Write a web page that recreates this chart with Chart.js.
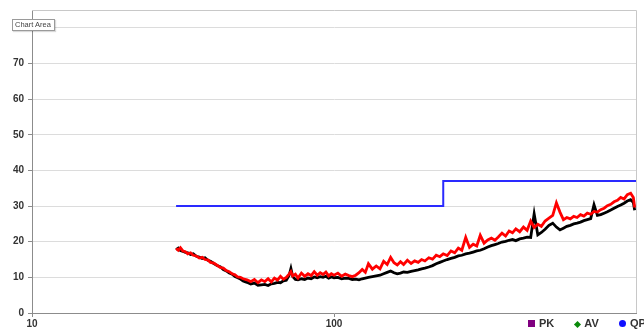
<!DOCTYPE html>
<html>
<head>
<meta charset="utf-8">
<script src="https://cdn.jsdelivr.net/npm/chart.js@4.4.1/dist/chart.umd.min.js"></script>
<style>
    html, body { margin: 0; padding: 0; background: #fff; overflow: hidden; }
    #wrap { position: relative; width: 644px; height: 330px; overflow: hidden; }
    #emiChart { position: absolute; left: 0; top: 0; }
    .chart-area-tip {
        position: absolute; left: 12px; top: 19px; height: 9px; line-height: 9px;
        font: 7.5px "Liberation Sans", Arial, sans-serif; color: #444;
        background: #fff; border: 1px solid #9a9a9a; padding: 0 3px 1px 2px;
        box-shadow: 1px 1px 1px rgba(0,0,0,0.15);
    }
    .legend {
        position: absolute; left: 528px; top: 317px; white-space: nowrap;
        font: bold 11px "Liberation Sans", Arial, sans-serif; color: #333;
    }
    .legend span.item { display: inline-block; margin-right: 17px; }
    .mk { display: inline-block; vertical-align: 0px; margin-right: 4px; }
    .mk.sq { width: 7px; height: 7px; background: #800080; }
    .mk.dm { width: 5px; height: 5px; background: #0a8a0a; transform: rotate(45deg); margin-left: 1px; }
    .mk.ci { width: 7px; height: 7px; background: #1010ff; border-radius: 50%; }
</style>
</head>
<body>
<div id="wrap">
    <canvas id="emiChart" width="644" height="330"></canvas>
    <div class="chart-area-tip">Chart Area</div>
    <div class="legend">
        <span class="item"><span class="mk sq"></span>PK</span>
        <span class="item"><span class="mk dm"></span>AV</span>
        <span class="item"><span class="mk ci"></span>QP</span>
    </div>
</div>
<script>
// --- Data (MHz / dBuV) ---
const freqs = [
    30, 30.5, 31, 31.6, 32.2, 32.8, 33.5, 34.2, 35, 35.8,
    36.6, 37.4, 38.2, 39, 40, 41, 42, 43, 44, 45,
    46, 47, 48, 49, 50, 51.5, 53, 54.5, 56, 57.5,
    59, 60.5, 62, 63.5, 65, 66.5, 68, 69.5, 71, 72,
    73, 74.5, 76, 78, 80, 82, 84, 86, 88, 90,
    92, 94, 96, 98, 100, 103, 106, 109, 112, 115,
    118, 121, 124, 127, 130, 134, 138, 142, 146, 150,
    154, 158, 162, 166, 170, 175, 180, 185, 190, 195,
    200, 206, 212, 218, 224, 230, 237, 244, 251, 258,
    265, 273, 281, 289, 297, 305, 314, 323, 332, 341,
    350, 360, 370, 380, 390, 400, 412, 424, 436, 448,
    460, 473, 486, 500, 515, 530, 545, 560, 575, 590,
    606, 622, 638, 655, 672, 690, 708, 726, 745, 764,
    784, 804, 825, 846, 868, 890, 913, 936, 960, 980,
    990
];
const blackTrace = [
    17.8, 18.2, 17.5, 17.3, 17.0, 16.9, 16.4, 16.6, 15.9, 15.7,
    15.3, 15.5, 14.8, 14.5, 13.9, 13.3, 13.0, 12.2, 11.8, 11.2,
    10.9, 10.2, 9.9, 9.5, 9.0, 8.6, 8.1, 8.4, 7.8, 7.9,
    8.0, 7.7, 8.2, 8.3, 8.6, 8.5, 9.0, 9.2, 10.5, 12.5,
    10.2, 9.4, 9.3, 9.6, 9.4, 9.8, 9.6, 10.1, 9.9, 10.2,
    10.0, 10.3, 9.8, 10.1, 9.9, 10.0, 9.6, 9.8, 9.7, 9.4,
    9.5, 9.3, 9.6, 9.8, 10.0, 10.2, 10.4, 10.6, 11.0, 11.4,
    11.8, 11.3, 11.0, 11.2, 11.5, 11.4, 11.7, 11.9, 12.1, 12.4,
    12.6, 12.9, 13.3, 13.8, 14.2, 14.6, 15.0, 15.3, 15.6, 16.0,
    16.2, 16.6, 16.8, 17.1, 17.4, 17.6, 18.0, 18.5, 18.9, 19.2,
    19.5, 19.9, 20.1, 20.4, 20.6, 20.3, 20.8, 21.0, 21.3, 21.2,
    27.8, 21.9, 22.6, 23.5, 24.6, 25.2, 24.1, 23.3, 23.8, 24.3,
    24.6, 25.0, 25.2, 25.5, 25.9, 26.2, 26.5, 30.4, 27.4, 27.6,
    28.0, 28.4, 28.9, 29.4, 29.9, 30.3, 30.8, 31.4, 31.8, 31.0,
    28.8
];
const redTrace = [
    18.1, 17.6, 18.3, 17.4, 17.2, 16.6, 16.9, 16.2, 16.0, 15.4,
    15.6, 15.0, 14.9, 14.2, 14.0, 13.4, 12.8, 12.6, 11.9, 11.6,
    11.0, 10.7, 10.1, 10.0, 9.6, 9.3, 8.8, 9.4, 8.5, 9.3,
    8.8, 9.6, 8.7, 9.8, 9.2, 10.3, 9.5, 10.0, 10.9, 11.6,
    10.4, 10.9, 9.8, 11.2, 10.3, 11.0, 10.5, 11.6, 10.6, 11.3,
    10.8, 11.5, 10.4, 11.0, 10.6, 11.2, 10.3, 10.9, 10.5, 10.2,
    10.6, 11.3, 12.2, 11.4, 13.8, 12.3, 13.2, 12.4, 14.5, 13.6,
    15.6, 14.1, 13.5, 14.4, 13.6, 14.8, 13.9, 14.6, 14.2, 15.0,
    14.6, 15.5, 15.1, 16.2, 15.8, 16.6, 16.1, 17.4, 16.9, 18.2,
    17.6, 21.2, 18.4, 19.3, 18.8, 21.8, 19.6, 20.5, 21.0, 20.4,
    21.3, 22.4, 21.6, 23.0, 22.5, 23.6, 22.8, 24.1, 23.2, 25.8,
    24.0, 24.9, 24.3, 25.8, 26.6, 27.4, 30.9, 28.3, 26.2, 26.8,
    26.4, 27.1, 26.8, 27.6, 27.2, 28.0, 27.7, 28.5, 28.3, 29.0,
    29.4, 30.1, 30.5, 31.2, 31.6, 32.4, 32.0, 33.2, 33.6, 32.4,
    29.6
];
const limitFreqs = [30, 230, 230, 1000];
const limitValues = [30, 30, 37, 37];
const xTickValues = [10, 100];
const yTickValues = [0, 10, 20, 30, 40, 50, 60, 70, 80];

const toPoints = (xs, ys) => xs.map((x, i) => ({ x, y: ys[i] }));

// --- Chart area frame (top/right border) ---
const framePlugin = {
    id: "frame",
    beforeDatasetsDraw(chart) {
        const { ctx, chartArea: a } = chart;
        ctx.save();
        ctx.strokeStyle = "#c8c8c8";
        ctx.lineWidth = 1;
        ctx.beginPath();
        ctx.moveTo(a.left, a.top + 0.5);
        ctx.lineTo(a.right + 0.5, a.top + 0.5);
        ctx.lineTo(a.right + 0.5, a.bottom);
        ctx.stroke();
        ctx.restore();
    },
};

const tickFont = { family: "'Liberation Sans', Arial, sans-serif", size: 10, weight: "bold" };

new Chart(document.getElementById("emiChart"), {
    type: "line",
    data: {
        datasets: [
            { label: "red", data: toPoints(freqs, redTrace), borderColor: "#ff0000", borderWidth: 2.8, pointRadius: 0, tension: 0 },
            { label: "black", data: toPoints(freqs, blackTrace), borderColor: "#000000", borderWidth: 2.8, pointRadius: 0, tension: 0 },
            { label: "limit", data: toPoints(limitFreqs, limitValues), borderColor: "#2a2aff", borderWidth: 2, pointRadius: 0, tension: 0 },
        ],
    },
    options: {
        responsive: false,
        animation: false,
        layout: { padding: { top: 8, right: 8, left: 0, bottom: 0 } },
        plugins: { legend: { display: false }, tooltip: { enabled: false } },
        scales: {
            x: {
                type: "logarithmic",
                min: 10,
                max: 1000,
                afterBuildTicks: (scale) => { scale.ticks = xTickValues.map((v) => ({ value: v })); },
                afterFit: (scale) => { scale.height = 17; },
                ticks: { color: "#333", font: tickFont, padding: 1, maxRotation: 0, autoSkip: false, callback: (v) => String(v) },
                grid: { drawOnChartArea: false, drawTicks: true, tickLength: 4, color: "#8c8c8c" },
                border: { color: "#8c8c8c", width: 1 },
            },
            y: {
                min: 0,
                max: 85,
                afterBuildTicks: (scale) => { scale.ticks = yTickValues.map((v) => ({ value: v })); },
                afterFit: (scale) => { scale.width = 32; },
                ticks: { color: "#333", font: tickFont, padding: 4 },
                grid: { color: "#dcdcdc", tickLength: 4, tickColor: "#8c8c8c" },
                border: { color: "#8c8c8c", width: 1 },
            },
        },
    },
    plugins: [framePlugin],
});
</script>
</body>
</html>
